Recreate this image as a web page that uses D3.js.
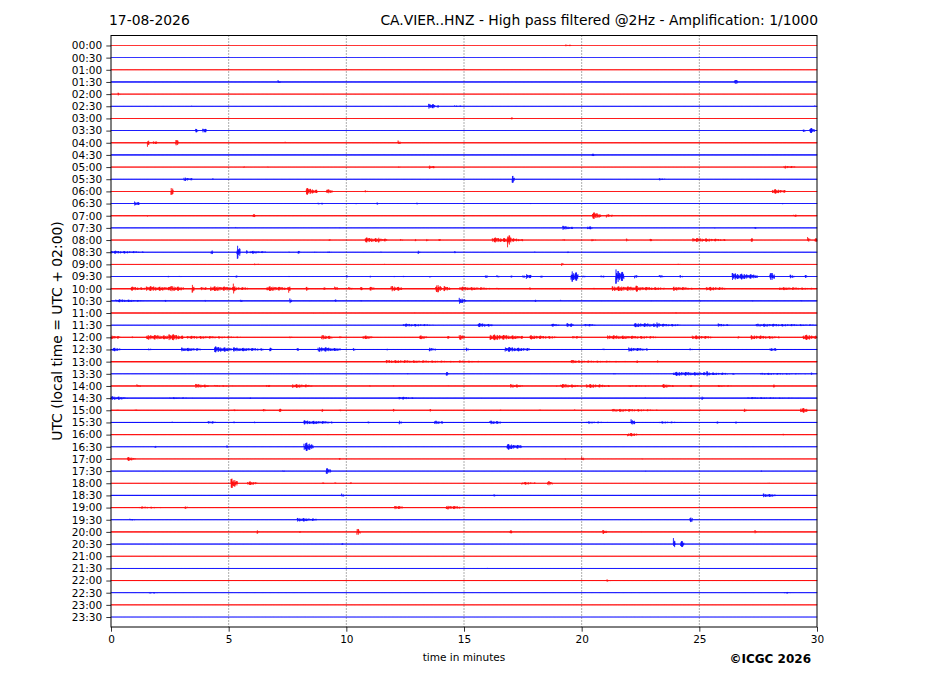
<!DOCTYPE html>
<html><head><meta charset="utf-8">
<script src="https://cdn.jsdelivr.net/npm/d3@7"></script>
<style>
body{margin:0;background:#fff}
svg{display:block;font-family:"DejaVu Sans",sans-serif}
</style>
</head><body>
<svg id="c" width="927" height="696"></svg>
<script>
// ---------- data ----------
const dateLabel = "17-08-2026";
const stationTitle = "CA.VIER..HNZ - High pass filtered @2Hz - Amplification: 1/1000";
const yAxisTitle = "UTC (local time = UTC + 02:00)";
const xAxisTitle = "time in minutes";
const copyright = "\u00A9ICGC 2026";
const rowLabels = ["00:00","00:30","01:00","01:30","02:00","02:30","03:00","03:30","04:00","04:30",
  "05:00","05:30","06:00","06:30","07:00","07:30","08:00","08:30","09:00","09:30",
  "10:00","10:30","11:00","11:30","12:00","12:30","13:00","13:30","14:00","14:30",
  "15:00","15:30","16:00","16:30","17:00","17:30","18:00","18:30","19:00","19:30",
  "20:00","20:30","21:00","21:30","22:00","22:30","23:00","23:30"];
const xTicks = [0,5,10,15,20,25,30];
const traceColors = ["#ff0000","#0000ff"];
// background noise amplitude per row (px-equivalent units)
const noiseLevel = [0.3,0.3,0.4,0.5,0.4,0.4,0.4,0.4,0.5,0.5,
  0.4,0.4,0.4,0.4,0.5,0.4,0.4,0.4,0.4,0.4,
  0.6,0.5,0.5,0.4,0.5,0.5,0.6,0.4,0.5,0.5,
  0.5,0.5,0.5,0.4,0.4,0.4,0.4,0.5,0.5,0.4,
  0.5,0.4,0.4,0.4,0.5,0.4,0.4,0.3];
// events per row: [start minute, amplitude, duration in minutes]
const events = [
  [[19.3,1,0.3]],
  [],
  [[21.0,0.7,0.1]],
  [[7.1,2,0.1],[26.5,3,0.15]],
  [[0.3,1.5,0.1]],
  [[3.4,1,0.1],[13.5,3,0.3],[13.85,2,0.1],[14.6,1,0.4],[29.9,1,0.1]],
  [[17.0,1,0.1]],
  [[3.6,2,0.1],[3.9,3,0.15],[29.4,2,0.1],[29.7,3,0.2]],
  [[1.55,4,0.1],[1.8,2,0.15],[2.75,4,0.12],[7.4,1,0.1],[12.2,2.5,0.1]],
  [[20.4,1.5,0.2]],
  [[5.65,1,0.1],[6.6,1,0.1],[12.2,1,0.1],[13.5,2,0.25],[28.6,1.5,0.5]],
  [[3.1,2,0.35],[4.3,1,0.1],[17.05,4,0.1],[23.3,1,0.4]],
  [[2.55,5,0.1],[8.3,3.5,0.45],[9.15,2.5,0.3],[10.8,1,0.15],[28.1,2.5,0.55]],
  [[1.0,2.5,0.2],[8.8,1,0.3],[10.4,1,0.1],[11.3,1,0.1],[13.0,1,0.1],[17.8,1,0.1],[28.5,1,0.1]],
  [[1.55,1,0.1],[6.0,2,0.15],[20.45,3.5,0.4],[21.05,2,0.25],[29.0,1.5,0.15]],
  [[5.3,1,0.1],[9.7,1,0.1],[19.2,2,0.45],[20.25,2,0.2],[25.6,1,0.1],[27.35,1,0.1]],
  [[9.25,1,0.1],[10.8,2.5,0.95],[11.35,3,0.1],[12.3,1.5,0.1],[12.9,1.5,0.1],[13.4,1.5,0.1],[13.9,1.5,0.1],
   [16.2,2.5,1.3],[16.85,8,0.15],[19.2,1.5,0.1],[20.4,1.5,0.2],[21.9,1.5,0.1],[22.9,1.5,0.1],
   [24.7,2,1.4],[27.2,2,0.1],[29.6,3,0.1],[29.9,2.5,0.1]],
  [[0.0,1.5,1.4],[4.25,3,0.1],[5.35,8,0.15],[5.75,2,0.1],[5.9,1.5,0.7],[7.5,1,0.1],[7.95,1.5,0.1],
   [8.65,1,0.1],[9.2,1,0.2],[11.4,1,0.1],[13.05,1.5,0.1],[14.6,1,0.1],[18.0,1,0.1],[19.4,1,0.1]],
  [[6.1,1,0.2],[11.6,1,0.1],[19.15,1.5,0.1],[24.1,1,0.1]],
  [[2.4,1,0.1],[2.9,1,0.1],[5.3,1,0.1],[7.55,1,0.1],[10.0,1,0.1],[11.0,1,0.1],[12.0,1,0.1],[12.4,1,0.1],
   [13.55,1,0.1],[15.9,2,0.1],[16.4,1.5,0.1],[16.95,1.5,0.1],[17.5,1.5,0.1],[17.65,3,0.2],[18.25,1.5,0.1],
   [19.55,7,0.3],[20.05,1.5,0.1],[20.8,1.5,0.15],[21.45,8,0.35],[22.25,2,0.15],[23.3,1.5,0.2],
   [24.15,1.5,0.15],[26.4,3.5,1.1],[28.0,5,0.2],[28.85,2,0.2],[29.5,1.5,0.1]],
  [[0.85,2,0.6],[1.5,2.5,1.5],[2.5,3,0.6],[3.45,5,0.1],[3.8,2,0.3],[4.2,2.5,1.6],[5.2,5,0.1],
   [6.6,2.5,1.0],[7.55,4,0.1],[8.3,2,0.1],[9.0,2,0.1],[9.5,2,0.2],[10.1,2,0.15],[10.6,2,0.1],[11.0,2,0.2],
   [11.9,3,0.45],[13.8,5,0.25],[14.15,2.5,0.3],[14.8,2,1.3],[16.4,1.5,0.1],[17.8,1.5,0.1],[20.5,1,0.1],
   [21.3,2.5,2.2],[22.3,4,0.1],[23.9,2,0.8],[25.3,2,0.9],[28.4,1.5,1.6]],
  [[0.2,1.5,1.2],[2.3,1,0.1],[4.0,1,0.1],[5.5,1.5,0.1],[7.6,3,0.1],[8.45,1,0.1],[9.5,2,0.1],[10.6,1,0.1],
   [12.3,1,0.1],[14.8,3,0.3],[16.5,1,0.1],[18.0,1.5,0.1],[19.1,1,0.1],[20.8,1,0.1],[22.9,1,0.1],
   [25.0,1,0.1],[27.2,1,0.1],[29.3,1,0.1]],
  [[2.8,0.8,0.1],[8.6,0.8,0.1],[12.9,0.8,0.1],[16.1,0.8,0.1],[24.0,0.8,0.1]],
  [[12.4,1.5,1.3],[15.6,2,0.65],[18.7,1.5,0.4],[19.35,2.5,0.3],[20.1,1.5,0.5],[22.2,2,2.0],[23.2,3,0.15],
   [25.8,1.5,0.5],[27.4,1.5,2.6]],
  [[0.0,2,0.4],[0.9,1,0.2],[1.5,2.5,1.6],[2.45,3.5,0.6],[3.2,1.5,2.3],[7.6,1.5,0.1],[8.95,2.5,0.45],
   [9.7,1.5,0.1],[10.7,2,0.45],[13.1,2,0.35],[14.3,1.5,0.1],[14.8,3,0.25],[16.1,3,1.4],[17.8,2,1.15],
   [19.6,1.5,0.4],[21.1,2,2.1],[24.7,2,0.9],[26.65,1.5,0.1],[27.2,2,1.2],[29.4,3,0.6]],
  [[0.05,2,0.35],[1.6,1.5,0.1],[3.0,2,0.8],[4.4,3,0.75],[5.2,2,1.3],[6.75,2,0.1],[7.9,1.5,0.1],
   [8.8,2.5,0.95],[10.3,1.5,0.1],[11.7,1.5,0.1],[13.5,2,0.3],[15.1,2,0.1],[16.75,2.5,1.05],[20.9,1,0.1],
   [22.0,2,0.8],[24.6,1.5,0.1],[28.0,2,0.3]],
  [[11.7,1.5,3.1],[14.8,1,1.7],[19.55,2,0.4],[20.0,1,3.2],[22.35,1.5,0.1],[23.2,1.5,0.1]],
  [[12.6,1,0.1],[14.25,2,0.1],[21.35,1,0.1],[23.9,2,2.3],[25.3,3,0.15],[26.4,1.5,0.1],[27.6,1,2.1],
   [29.75,2,0.1]],
  [[1.1,2,0.15],[3.6,2,0.6],[4.4,1,1.0],[6.6,1.5,0.2],[7.7,2,0.9],[10.0,1,0.1],[10.95,1,0.1],[12.0,1,0.1],
   [14.3,1,0.1],[16.95,2,0.55],[18.9,1,0.1],[19.1,2,0.85],[20.2,2,1.0],[22.0,1,1.3],[23.4,2,0.5],
   [24.6,1.5,0.1],[25.8,1,0.9],[28.15,1.5,0.1]],
  [[0.0,2,0.7],[1.65,1,0.1],[2.5,1,1.2],[5.9,1,0.1],[8.0,1,0.1],[12.2,1.5,0.7],[15.7,1,0.1],[22.7,1,0.1],
   [25.1,2,0.1],[27.0,1,2.7]],
  [[0.25,1,0.1],[1.0,1,0.2],[5.1,1,0.4],[6.45,2,0.1],[7.15,2,0.1],[8.95,2,0.1],[9.7,1.5,0.1],[12.0,1.5,0.1],
   [13.55,1.5,0.1],[16.5,1,0.1],[18.2,1,0.1],[19.7,1,0.1],[21.3,1.5,2.0],[25.0,1.5,0.1],[26.9,2,0.15],
   [29.3,3,0.3]],
  [[2.6,1,0.1],[3.3,1,0.1],[4.1,1.5,0.35],[5.2,1,0.1],[6.1,1,0.1],[8.2,2,1.2],[10.9,1,0.1],[12.25,2,0.1],
   [13.75,2,0.35],[16.1,2,0.45],[20.2,1,1.1],[22.1,4,0.15],[23.3,1,1.1],[25.75,1,0.1],[26.55,1,0.1]],
  [[9.15,1,0.1],[21.95,2,0.45],[28.55,1,0.1]],
  [[1.85,1.5,0.1],[4.9,1.5,0.1],[8.2,5,0.4],[16.8,3,0.65]],
  [[0.7,2,0.35],[9.7,1,0.1],[19.3,1,0.1],[20.0,2.5,0.1],[22.5,1,0.1]],
  [[7.3,1,0.1],[9.15,3,0.2],[22.7,1,0.1],[27.6,1,0.1]],
  [[5.1,5,0.3],[5.8,2,0.45],[8.97,1,0.1],[9.5,1,0.1],[10.15,1,0.1],[17.45,1.5,0.6],[18.55,3,0.2],[27.9,1,0.1]],
  [[9.8,2,0.1],[16.2,1,0.3],[27.7,2,0.55]],
  [[1.2,1,1.2],[3.15,2,0.1],[12.05,2,0.35],[14.25,2,0.7]],
  [[0.8,1,0.3],[7.9,2,0.85],[24.6,4,0.1]],
  [[6.2,2,0.1],[8.0,1,0.1],[10.45,4,0.15],[16.95,2,0.1],[20.9,2,0.2],[22.5,1,0.1],[27.35,2,0.1]],
  [[9.8,1,0.1],[23.9,6,0.1],[24.2,4,0.15]],
  [],
  [[16.0,0.6,0.1]],
  [[21.0,1,0.3]],
  [[1.6,1,0.4],[28.6,1,0.3]],
  [],
  []
];
// drawing style: relative spikiness pattern applied along each burst
const spikePattern = [1,0.35,0.7,0.2,0.9,0.45,0.25,0.8,0.3,0.6,0.15,0.5,0.85];

// ---------- layout ----------
const svg = d3.select("#c");
const L = 111, R = 817, T = 35.5, B = 627;
const x = d3.scaleLinear().domain([0,30]).range([L,R]);
const y = d3.scaleLinear().domain([-0.82,47.82]).range([T,B]);
const amp = d3.scaleLinear().domain([0,1]).range([0,1]); // amplitude units -> px

// traces
const dt = 0.01;
const samples = d3.range(0, 30 + dt/2, dt);
function envelope(rowEv, t){
  let a = 0;
  for (const [m, A, d] of rowEv){
    const u = (t - m) / d;
    if (u >= 0 && u <= 1){
      const v = A * (1 - 0.55 * u);
      if (v > a) a = v;
    }
  }
  return a;
}
const line = d3.line().x(d => x(d[0])).y(d => d[1]);
const gTr = svg.append("g");
rowLabels.forEach((lab, i) => {
  const ev = events[i];
  const pts = samples.map((t, k) => {
    const e = envelope(ev, t);
    const seg = Math.floor(k / 3);
    const mod = spikePattern[(seg + i * 5) % spikePattern.length];
    const a = Math.max(noiseLevel[i], e * mod);
    const s = (k % 2 === 0) ? 1 : -1;
    return [t, y(i) - s * amp(a)];
  });
  gTr.append("path")
    .attr("d", line(pts))
    .attr("fill","none")
    .attr("stroke", traceColors[i % 2])
    .attr("stroke-width", 0.6)
    .attr("stroke-opacity", 0.9);
});

// grid
svg.append("g").selectAll("line").data(xTicks.filter(v => v > 0 && v < 30)).join("line")
  .attr("x1", d => x(d)).attr("x2", d => x(d))
  .attr("y1", T).attr("y2", B)
  .attr("stroke", "#333").attr("stroke-width", 0.8)
  .attr("stroke-dasharray", "1,2");

// frame
svg.append("rect").attr("x", L).attr("y", T).attr("width", R-L).attr("height", B-T)
  .attr("fill","none").attr("stroke","#000").attr("stroke-width",1);

// axes
const xAxis = svg.append("g").attr("transform", `translate(0,${B})`)
  .call(d3.axisBottom(x).tickValues(xTicks).tickSize(4.7).tickPadding(4.2));
const yAxis = svg.append("g").attr("transform", `translate(${L},0)`)
  .call(d3.axisLeft(y).tickValues(d3.range(rowLabels.length)).tickFormat(i => rowLabels[i]).tickSize(4.7).tickPadding(4.2));
[xAxis, yAxis].forEach(g => {
  g.select(".domain").remove();
  g.selectAll("text").attr("font-family","DejaVu Sans").attr("font-size","10.5px").attr("fill","#000");
  g.selectAll("line").attr("stroke","#000").attr("stroke-width",0.8);
});

// texts
svg.append("text").attr("x", 109).attr("y", 25).attr("font-size","13.9px").text(dateLabel);
svg.append("text").attr("x", 818).attr("y", 25).attr("text-anchor","end").attr("font-size","13.9px").text(stationTitle);
svg.append("text").attr("transform","translate(62,331) rotate(-90)").attr("text-anchor","middle")
  .attr("font-size","13.9px").text(yAxisTitle);
svg.append("text").attr("x", 464).attr("y", 661).attr("text-anchor","middle").attr("font-size","10.5px").text(xAxisTitle);
svg.append("text").attr("x", 811).attr("y", 663).attr("text-anchor","end").attr("font-size","12px")
  .attr("font-weight","bold").text(copyright);
</script>
</body></html>
